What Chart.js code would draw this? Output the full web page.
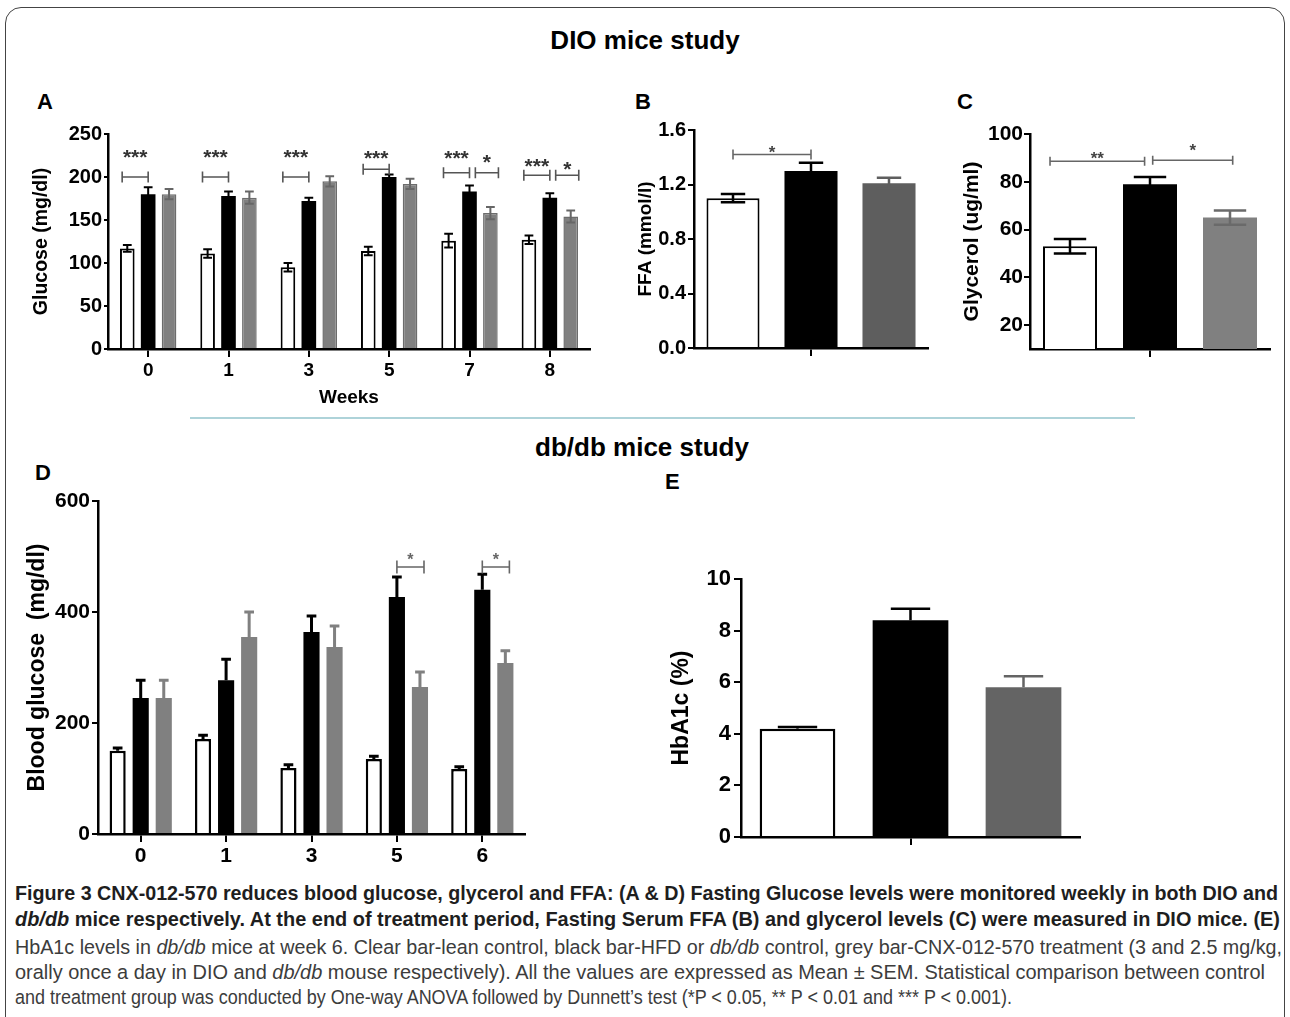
<!DOCTYPE html>
<html>
<head>
<meta charset="utf-8">
<script src="https://cdn.jsdelivr.net/npm/chart.js@4.4.0/dist/chart.umd.min.js"></script>
<style>
  body { margin: 0; background: #fff; width: 1290px; height: 1017px; position: relative; overflow: hidden;
         font-family: "Liberation Sans", Arial, Helvetica, sans-serif; }
  .frame { position: absolute; left: 5px; top: 7px; width: 1280px; height: 1030px; border: 1.5px solid #444;
           border-radius: 16px; box-sizing: border-box; }
  .t { position: absolute; font-weight: bold; color: #000; white-space: nowrap; line-height: 1; }
  .head { font-size: 26px; transform: translate(-50%, -50%); }
  .let { font-size: 22px; }
  .sep { position: absolute; left: 190px; top: 417px; width: 945px; height: 2px; background: #aed3d9; }
  canvas { position: absolute; }
  .cap { position: absolute; left: 15px; display: inline-block; white-space: nowrap; line-height: 22px;
         font-family: "Liberation Sans Narrow", "Arial Narrow", "Liberation Sans", sans-serif; font-size: 20.5px;
         transform-origin: 0 50%; }
  .cap.b { font-weight: bold; color: #1e1e1e; }
  .cap.n { color: #3c3c3c; }
</style>
</head>
<body>
<div class="frame"></div>

<div class="t head" style="left:645px;top:40px">DIO mice study</div>
<div class="t head" style="left:642px;top:447px">db/db mice study</div>
<div class="sep"></div>

<div class="t let" style="left:37px;top:91px">A</div>
<div class="t let" style="left:635px;top:91px">B</div>
<div class="t let" style="left:957px;top:91px">C</div>
<div class="t let" style="left:35px;top:462px">D</div>
<div class="t let" style="left:665px;top:471px">E</div>

<canvas id="panelA" width="580" height="300" style="left:20px;top:110px"></canvas>
<canvas id="panelB" width="320" height="300" style="left:615px;top:110px"></canvas>
<canvas id="panelC" width="330" height="300" style="left:950px;top:110px"></canvas>
<canvas id="panelD" width="520" height="400" style="left:20px;top:480px"></canvas>
<canvas id="panelE" width="440" height="310" style="left:655px;top:560px"></canvas>

<div class="cap b" data-w="1263" style="top:882px">Figure 3 CNX-012-570 reduces blood glucose, glycerol and FFA: (A &amp; D) Fasting Glucose levels were monitored weekly in both DIO and</div>
<div class="cap b" data-w="1265" style="top:908px"><i>db/db</i> mice respectively. At the end of treatment period, Fasting Serum FFA (B) and glycerol levels (C) were measured in DIO mice. (E)</div>
<div class="cap n" data-w="1267" style="top:936px">HbA1c levels in <i>db/db</i> mice at week 6. Clear bar-lean control, black bar-HFD or <i>db/db</i> control, grey bar-CNX-012-570 treatment (3 and 2.5 mg/kg,</div>
<div class="cap n" data-w="1250" style="top:961px">orally once a day in DIO and <i>db/db</i> mouse respectively). All the values are expressed as Mean ± SEM. Statistical comparison between control</div>
<div class="cap n" data-w="997" style="top:986px">and treatment group was conducted by One-way ANOVA followed by Dunnett’s test (*P &lt; 0.05, ** P &lt; 0.01 and *** P &lt; 0.001).</div>

<script>
// ---- A: DIO fasting glucose (mg/dl) by week
const weeksA = ['0', '1', '3', '5', '7', '8'];
const leanA = [117, 111, 95, 114, 126, 127];
const leanAErr = [4, 5, 5, 5, 8, 5];
const hfdA = [180, 178, 172, 200, 183, 176];
const hfdAErr = [8, 5, 4, 3, 7, 5];
const cnxA = [180, 176, 195, 192, 158, 154];
const cnxAErr = [6, 7, 6, 6, 7, 7];
const ticksA = [0, 50, 100, 150, 200, 250];
// [week index, first bar, second bar, label, bracket value, label value]
const sigA = [
  [0, 0, 1, '***', 200, 228],
  [1, 0, 1, '***', 200, 228],
  [2, 0, 1, '***', 200, 228],
  [3, 0, 1, '***', 209, 227],
  [4, 0, 1, '***', 205, 227],
  [4, 1, 2, '*', 205, 222],
  [5, 0, 1, '***', 202, 217],
  [5, 1, 2, '*', 202, 214]
];

// ---- B: serum FFA (mmol/l)
const groups = ['Lean control', 'HFD control', 'CNX-012-570'];
const ffa = [1.10, 1.30, 1.21];
const ffaErr = [0.03, 0.06, 0.04];
const ticksB = [0, 0.4, 0.8, 1.2, 1.6];
const sigB = [[0, 0, 1, '*', 1.42, 1.46]];

// ---- C: glycerol (ug/ml)
const glycerol = [53, 79, 65];
const glycerolErr = [3, 3, 3];
const ticksC = [20, 40, 60, 80, 100];
const sigC = [
  [0, 0, 1, '**', 88.6, 91],
  [0, 1, 2, '*', 89, 94.5]
];

// ---- D: db/db blood glucose (mg/dl) by week
const weeksD = ['0', '1', '3', '5', '6'];
const leanD = [150, 171, 119, 135, 117];
const leanDErr = [5, 7, 6, 5, 4];
const dbD = [245, 277, 364, 427, 440];
const dbDErr = [32, 38, 29, 36, 28];
const cnxD = [245, 355, 337, 265, 308];
const cnxDErr = [32, 45, 38, 27, 22];
const ticksD = [0, 200, 400, 600];
const sigD = [
  [3, 1, 2, '*', 481, 499],
  [4, 1, 2, '*', 481, 499]
];

// ---- E: HbA1c (%)
const hba1c = [4.2, 8.4, 5.8];
const hba1cErr = [0.06, 0.45, 0.43];
const ticksE = [0, 2, 4, 6, 8, 10];

Chart.defaults.font.family = '"Liberation Sans", Arial, Helvetica, sans-serif';
Chart.defaults.color = '#000';

// error bars + significance brackets
const marks = {
  id: 'marks',
  afterDatasetsDraw(chart, args, o) {
    const ctx = chart.ctx;
    const ys = chart.scales.y;
    ctx.save();
    chart.data.datasets.forEach((ds, i) => {
      const meta = chart.getDatasetMeta(i);
      meta.data.forEach((bar, j) => {
        const v = ds.data[j], e = ds.err[j];
        const top = ys.getPixelForValue(v + e);
        const bot = o.both ? ys.getPixelForValue(v - e) : bar.y;
        const half = bar.width * o.cap / 2;
        ctx.strokeStyle = Array.isArray(ds.errColor) ? ds.errColor[j] : ds.errColor;
        ctx.lineWidth = o.lw;
        ctx.beginPath();
        ctx.moveTo(bar.x, top); ctx.lineTo(bar.x, bot);
        ctx.moveTo(bar.x - half, top); ctx.lineTo(bar.x + half, top);
        if (o.both) { ctx.moveTo(bar.x - half, bot); ctx.lineTo(bar.x + half, bot); }
        ctx.stroke();
      });
    });
    (o.sig || []).forEach(s => {
      const [cat, a, b, label, lineV, labV] = s;
      const pa = o.single ? chart.getDatasetMeta(0).data[a] : chart.getDatasetMeta(a).data[cat];
      const pb = o.single ? chart.getDatasetMeta(0).data[b] : chart.getDatasetMeta(b).data[cat];
      const sh = o.shift[a + '-' + b];
      const x1 = pa.x + sh[0] * pa.width, x2 = pb.x + sh[1] * pb.width;
      const y = ys.getPixelForValue(lineV);
      ctx.strokeStyle = o.sigColor; ctx.lineWidth = 1.6;
      ctx.beginPath();
      ctx.moveTo(x1, y); ctx.lineTo(x2, y);
      ctx.moveTo(x1, y - o.capH / 2); ctx.lineTo(x1, y + o.capH / 2);
      ctx.moveTo(x2, y - o.capH / 2); ctx.lineTo(x2, y + o.capH / 2);
      ctx.stroke();
      ctx.fillStyle = o.starColor;
      ctx.font = 'bold ' + o.starSize + 'px "Liberation Sans", Arial, sans-serif';
      ctx.textAlign = 'center';
      ctx.textBaseline = 'middle';
      ctx.fillText(label, (x1 + x2) / 2, ys.getPixelForValue(labV) + o.starSize * 0.24);
    });
    ctx.restore();
  }
};

function panel(id, c) {
  return new Chart(document.getElementById(id), {
    type: 'bar',
    data: { labels: c.labels, datasets: c.datasets },
    options: {
      responsive: false,
      animation: false,
      layout: { padding: c.padding },
      plugins: { legend: { display: false }, tooltip: { enabled: false }, marks: c.marks },
      scales: {
        x: {
          offset: true,
          border: { display: true, color: '#000', width: 2.5 },
          grid: { offset: false, drawOnChartArea: false, drawTicks: true, tickLength: 8, lineWidth: 2,
                  color: c.xTickColor || '#000' },
          ticks: { display: !!c.xFont, padding: 2, color: '#000', maxRotation: 0,
                   font: { size: c.xFont || 12, weight: 'bold' } },
          title: c.xTitle ? { display: true, text: c.xTitle, color: '#000',
                              font: { size: 19, weight: 'bold' }, padding: { top: 0, bottom: 1 } }
                          : { display: false },
          afterFit: s => { s.height = c.xHeight; }
        },
        y: {
          min: c.yMin, max: c.yMax,
          border: { display: true, color: '#000', width: 2.5 },
          grid: { drawOnChartArea: false, drawTicks: true, tickLength: c.tickLen, lineWidth: 2, color: '#000' },
          ticks: { padding: c.tickPad, color: '#000', font: { size: c.yFont, weight: 'bold' },
                   callback: c.fmt || (v => v) },
          afterBuildTicks: s => { s.ticks = c.yTicks.map(v => ({ value: v })); },
          title: { display: true, text: c.yTitle, color: '#000', font: { size: c.titleSize, weight: 'bold' },
                   padding: { top: c.titlePad, bottom: 0 } },
          afterFit: s => { s.width = c.yWidth; }
        }
      }
    },
    plugins: [marks]
  });
}

const greyA = '#808080';
const greyDark = '#5e5e5e';

panel('panelA', {
  labels: weeksA,
  datasets: [
    { data: leanA, err: leanAErr, backgroundColor: '#fff', borderColor: '#000', borderWidth: 2, errColor: '#000',
      barPercentage: 0.7, categoryPercentage: 0.78 },
    { data: hfdA, err: hfdAErr, backgroundColor: '#000', borderColor: '#000', borderWidth: 0, errColor: '#000',
      barPercentage: 0.7, categoryPercentage: 0.78 },
    { data: cnxA, err: cnxAErr, backgroundColor: greyA, borderColor: '#6c6c6c', borderWidth: 1.5, errColor: '#666',
      barPercentage: 0.7, categoryPercentage: 0.78 }
  ],
  padding: { left: 0, top: 24, right: 10, bottom: 0 },
  yMin: 0, yMax: 250, yTicks: ticksA, yWidth: 88, yFont: 20, tickLen: 4, tickPad: 2,
  yTitle: 'Glucose (mg/dl)', titleSize: 19.5, titlePad: 10,
  xFont: 19, xTitle: 'Weeks', xHeight: 61,
  marks: { both: true, cap: 0.6, lw: 2, sig: sigA, shift: { '0-1': [-0.35, 0], '1-2': [0.4, 0.55] },
           capH: 11, sigColor: '#555', starColor: '#333', starSize: 21 }
});

panel('panelB', {
  labels: groups,
  datasets: [
    { data: ffa, err: ffaErr, backgroundColor: ['#fff', '#000', greyDark], borderColor: ['#000', '#000', greyDark],
      borderWidth: [2, 0, 0], errColor: ['#000', '#000', greyDark], barPercentage: 0.68, categoryPercentage: 1 }
  ],
  padding: { left: 0, top: 20, right: 7, bottom: 0 },
  yMin: 0, yMax: 1.6, yTicks: ticksB, yWidth: 79, yFont: 20, tickLen: 6, tickPad: 2, fmt: v => v.toFixed(1),
  yTitle: 'FFA (mmol/l)', titleSize: 19, titlePad: 19,
  xHeight: 62, xTickColor: c => (c.index === 1 ? '#000' : 'rgba(0,0,0,0)'),
  marks: { both: true, single: true, cap: 0.46, lw: 2.5, sig: sigB, shift: { '0-1': [0, 0] },
           capH: 10, sigColor: '#666', starColor: '#444', starSize: 17 }
});

panel('panelC', {
  labels: groups,
  datasets: [
    { data: glycerol, err: glycerolErr, backgroundColor: ['#fff', '#000', greyA], borderColor: ['#000', '#000', greyA],
      borderWidth: [2, 0, 0], errColor: ['#000', '#000', '#6a6a6a'], barPercentage: 0.675, categoryPercentage: 1 }
  ],
  padding: { left: 0, top: 24, right: 10, bottom: 0 },
  yMin: 10, yMax: 100, yTicks: ticksC, yWidth: 80, yFont: 21, tickLen: 6, tickPad: 1,
  yTitle: 'Glycerol (ug/ml)', titleSize: 21, titlePad: 10,
  xHeight: 61, xTickColor: c => (c.index === 1 ? '#000' : 'rgba(0,0,0,0)'),
  marks: { both: true, single: true, cap: 0.6, lw: 2.5, sig: sigC, shift: { '0-1': [-0.37, -0.1], '1-2': [0.05, 0.05] },
           capH: 9, sigColor: '#666', starColor: '#444', starSize: 17 }
});

panel('panelD', {
  labels: weeksD,
  datasets: [
    { data: leanD, err: leanDErr, backgroundColor: '#fff', borderColor: '#000', borderWidth: 2.5, errColor: '#000',
      barPercentage: 0.7, categoryPercentage: 0.81 },
    { data: dbD, err: dbDErr, backgroundColor: '#000', borderColor: '#000', borderWidth: 0, errColor: '#000',
      barPercentage: 0.7, categoryPercentage: 0.81 },
    { data: cnxD, err: cnxDErr, backgroundColor: greyA, borderColor: greyA, borderWidth: 0, errColor: greyA,
      barPercentage: 0.7, categoryPercentage: 0.81 }
  ],
  padding: { left: 0, top: 21, right: 15, bottom: 0 },
  yMin: 0, yMax: 600, yTicks: ticksD, yWidth: 78, yFont: 21, tickLen: 6, tickPad: 2,
  yTitle: 'Blood glucose  (mg/dl)', titleSize: 23, titlePad: 4,
  xFont: 21, xHeight: 46,
  marks: { both: false, cap: 0.6, lw: 3, sig: sigD, shift: { '1-2': [0, 0.25] },
           capH: 13, sigColor: '#666', starColor: '#666', starSize: 16 }
});

panel('panelE', {
  labels: groups,
  datasets: [
    { data: hba1c, err: hba1cErr, backgroundColor: ['#fff', '#000', '#646464'], borderColor: ['#000', '#000', '#646464'],
      borderWidth: [2.5, 0, 0], errColor: ['#000', '#000', '#646464'], barPercentage: 0.67, categoryPercentage: 1 }
  ],
  padding: { left: 0, top: 19, right: 15, bottom: 0 },
  yMin: 0, yMax: 10, yTicks: ticksE, yWidth: 86, yFont: 22, tickLen: 7, tickPad: 3,
  yTitle: 'HbA1c (%)', titleSize: 23, titlePad: 13,
  xHeight: 33, xTickColor: c => (c.index === 1 ? '#000' : 'rgba(0,0,0,0)'),
  marks: { both: false, single: true, cap: 0.52, lw: 2.5, sig: [], shift: {},
           capH: 0, sigColor: '#666', starColor: '#444', starSize: 16 }
});

// stretch each caption line to the width it has in the printed figure
document.querySelectorAll('.cap').forEach(el => {
  const w = el.getBoundingClientRect().width;
  el.style.transform = 'scaleX(' + (+el.dataset.w / w) + ')';
});
</script>
</body>
</html>
